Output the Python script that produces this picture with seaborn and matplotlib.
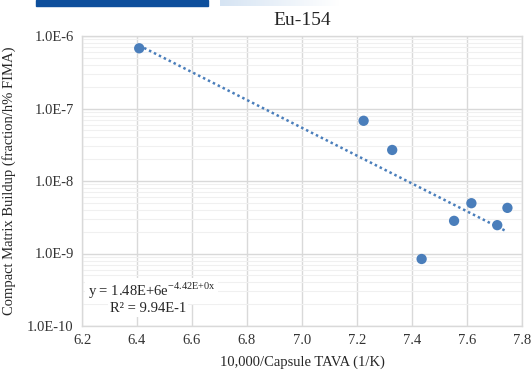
import numpy as np
import pandas as pd
import matplotlib
matplotlib.use("Agg")
import matplotlib.pyplot as plt
import seaborn as sns
from matplotlib.ticker import FixedLocator, LogLocator, NullFormatter
from matplotlib.colors import LinearSegmentedColormap

# data
inv_temp = [6.408, 7.224, 7.328, 7.435, 7.553, 7.616, 7.710, 7.747]
buildup = [6.77e-7, 6.77e-8, 2.68e-8, 8.4e-10, 2.82e-9, 4.94e-9, 2.46e-9, 4.26e-9]
fit_a = 1.48e6
fit_b = -4.42
fit_x_range = [6.408, 7.738]
x_ticks = [6.2, 6.4, 6.6, 6.8, 7.0, 7.2, 7.4, 7.6, 7.8]
y_ticks = [1e-10, 1e-9, 1e-8, 1e-7, 1e-6]
y_tick_labels = ["1.0E-10", "1.0E-9", "1.0E-8", "1.0E-7", "1.0E-6"]

sns.set_style("white")
plt.rcParams['font.family'] = ['Liberation Serif', 'DejaVu Serif']
plt.rcParams['mathtext.fontset'] = 'custom'
plt.rcParams['mathtext.rm'] = 'Liberation Serif'

W, H = 531, 373
fig = plt.figure(figsize=(W/100, H/100), dpi=100)
ax = fig.add_axes([82/W, 1-326/H, (522-82)/W, (326-36)/H])

# header bar fragments
fig.patches.append(plt.Rectangle((36/W, 1-6/H), (208-36)/W, 6/H, transform=fig.transFigure,
                                 color="#0e4f9c", zorder=0))
grad = np.linspace(0, 1, 100).reshape(1, -1)
gax = fig.add_axes([220/W, 1-6/H, (340-220)/W, 6/H])
cm = LinearSegmentedColormap.from_list("g", ["#d6e4f3", "#ffffff"])
gax.imshow(grad, aspect="auto", cmap=cm)
gax.axis("off")

df = pd.DataFrame({"x": inv_temp, "y": buildup})
fx = np.linspace(fit_x_range[0], fit_x_range[1], 200)
fit_df = pd.DataFrame({"x": fx, "y": fit_a * np.exp(fit_b * fx)})

ax.set_yscale("log")
sns.lineplot(data=fit_df, x="x", y="y", ax=ax, color="#4a7ebb", lw=1.8,
             linestyle=(0, (1, 1.2)), zorder=3)
sns.scatterplot(data=df, x="x", y="y", ax=ax, color="#4a7ebb", s=55,
                edgecolor="none", zorder=4)

ax.set_xlim(6.2, 7.8)
ax.set_ylim(1e-10, 1e-6)
ax.xaxis.set_major_locator(FixedLocator(x_ticks))
ax.set_xticklabels([f"{t:.1f}" for t in x_ticks])
ax.yaxis.set_major_locator(FixedLocator(y_ticks))
ax.set_yticklabels(y_tick_labels)
ax.yaxis.set_minor_locator(LogLocator(base=10, subs=np.arange(2, 10)))
ax.yaxis.set_minor_formatter(NullFormatter())

ax.grid(True, which="major", color="#d9d9d9", lw=1)
ax.grid(True, which="minor", axis="y", color="#f0f0f0", lw=0.8)
ax.set_axisbelow(True)
for s in ax.spines.values():
    s.set_color("#d9d9d9")
    s.set_linewidth(1)
ax.tick_params(axis="both", which="both", length=0, labelsize=10.5, colors="#333333", pad=6)
ax.tick_params(axis="y", which="minor", length=0)

ax.set_title("Eu-154", fontsize=14, color="#262626", pad=8)
ax.set_xlabel("10,000/Capsule TAVA (1/K)", fontsize=10.5, color="#262626", labelpad=6)
ax.set_ylabel("Compact Matrix Buildup (fraction/h% FIMA)", fontsize=10.5, color="#262626", labelpad=8)

eq = r"y = 1.48E+6e$^{\mathregular{-4.42E{+}0x}}$"
ax.text(88/W, 1-291/H, eq, transform=fig.transFigure, fontsize=10.5, color="#262626",
        va="center", ha="left",
        bbox=dict(facecolor="white", edgecolor="none", pad=2))
ax.text(148/W, 1-309/H, "R² = 9.94E-1", transform=fig.transFigure, fontsize=10.5,
        color="#262626", va="center", ha="center",
        bbox=dict(facecolor="white", edgecolor="none", pad=1))

fig.savefig("out.png", dpi=100)
